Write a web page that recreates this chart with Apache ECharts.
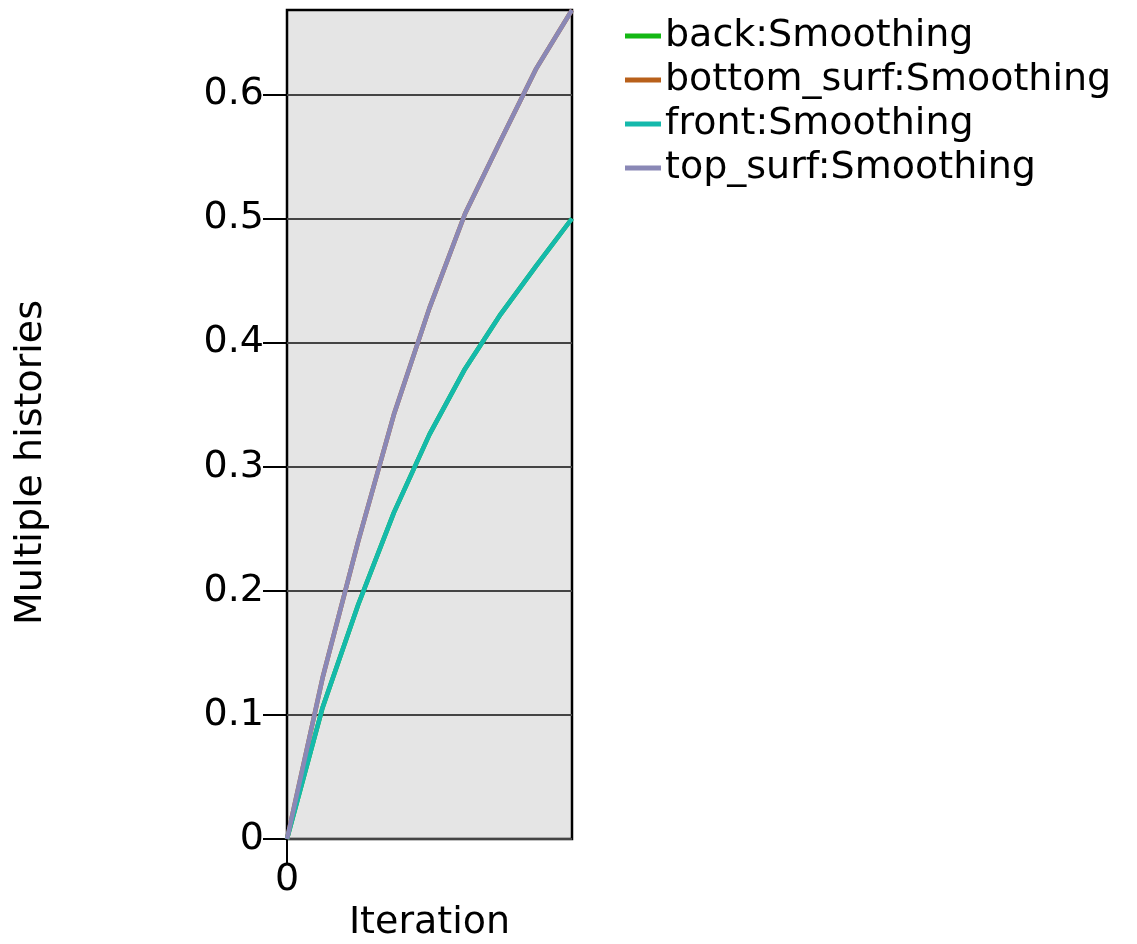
<!DOCTYPE html>
<html>
<head>
<meta charset="utf-8">
<script src="https://cdn.jsdelivr.net/npm/echarts@6/dist/echarts.min.js"></script>
<style>
  html, body { margin: 0; padding: 0; background: #fff; }
  #chart { width: 1137px; height: 944px; }
</style>
</head>
<body>
<div id="chart"></div>
<script>
// Iteration steps (only the first one is labelled on the axis)
const iterations = [0, 1, 2, 3, 4, 5, 6, 7, 8];
const xTickLabels = [0];
const yTickValues = [0, 0.1, 0.2, 0.3, 0.4, 0.5, 0.6];

// Smoothing history per surface
const back       = [0, 0.106, 0.189, 0.263, 0.326, 0.379, 0.423, 0.462, 0.500];
const bottomSurf = [0, 0.130, 0.240, 0.342, 0.428, 0.504, 0.563, 0.621, 0.668];
const front      = [0, 0.106, 0.189, 0.263, 0.326, 0.379, 0.423, 0.462, 0.500];
const topSurf    = [0, 0.130, 0.240, 0.342, 0.428, 0.504, 0.563, 0.621, 0.668];

const seriesNames = ['back:Smoothing', 'bottom_surf:Smoothing', 'front:Smoothing', 'top_surf:Smoothing'];
const seriesColors = ['#14b814', '#b8601a', '#15b9ac', '#8a88b6'];
const seriesData = [back, bottomSurf, front, topSurf];

const font = 'DejaVu Sans';
const fontSize = 38;
const chart = echarts.init(document.getElementById('chart'), null, { renderer: 'canvas' });

chart.setOption({
  animation: false,
  backgroundColor: '#ffffff',
  grid: {
    left: 287, right: 565, top: 10, bottom: 105,
    outerBoundsMode: 'none', containLabel: false,
    show: true, backgroundColor: '#e5e5e5', borderColor: '#000', borderWidth: 2.5
  },
  legend: {
    orient: 'vertical',
    left: 620, top: 12,
    itemWidth: 36, itemHeight: 5, itemGap: 6,
    icon: 'rect',
    data: seriesNames,
    textStyle: { fontFamily: font, fontSize: fontSize, color: '#000', padding: [0, 0, 0, -1] }
  },
  xAxis: {
    type: 'value', min: 0, max: iterations[iterations.length - 1],
    name: 'Iteration', nameLocation: 'middle', nameGap: 65,
    nameTextStyle: { fontFamily: font, fontSize: fontSize, color: '#000' },
    axisLine: { show: false },
    axisTick: { show: true, length: 24, customValues: xTickLabels, lineStyle: { color: '#000', width: 2 } },
    axisLabel: { customValues: xTickLabels, fontFamily: font, fontSize: fontSize, color: '#000', margin: 22 },
    splitLine: { show: false }
  },
  yAxis: {
    type: 'value', min: 0, max: topSurf[topSurf.length - 1], interval: 0.1,
    axisLine: { show: false },
    axisTick: { show: true, length: 24, customValues: yTickValues, lineStyle: { color: '#000', width: 2 } },
    axisLabel: { customValues: yTickValues, fontFamily: font, fontSize: fontSize, color: '#000', margin: 23 },
    splitLine: { show: true, lineStyle: { color: '#444', width: 2 } }
  },
  graphic: [{
    type: 'text',
    left: 12, top: 300,
    rotation: Math.PI / 2,
    style: { text: 'Multiple histories', font: fontSize + 'px "DejaVu Sans"', fill: '#000' }
  }],
  series: seriesNames.map((name, i) => ({
    name: name,
    type: 'line',
    data: iterations.map((x, j) => [x, seriesData[i][j]]),
    showSymbol: false,
    smooth: false,
    lineStyle: { color: seriesColors[i], width: 4.5 },
    itemStyle: { color: seriesColors[i] },
    z: 2 + i
  }))
});
</script>
</body>
</html>
